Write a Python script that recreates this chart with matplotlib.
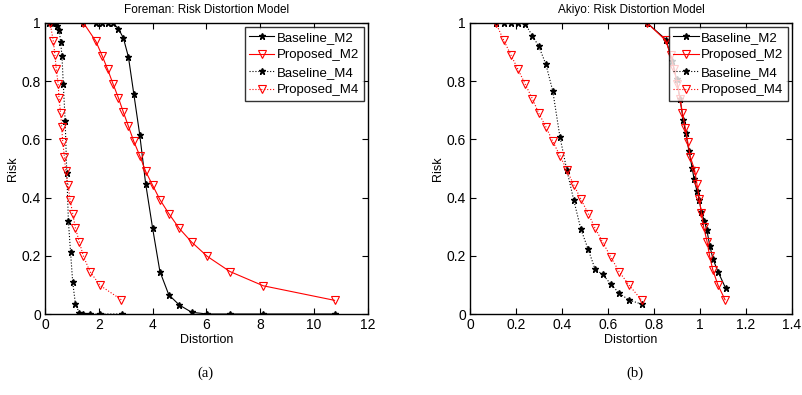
import matplotlib
matplotlib.use("Agg")
from matplotlib import pyplot as plt

plt.rcParams['font.family'] = ['Liberation Sans', 'DejaVu Sans']

# ---- Foreman (a) ----
fore_d_m2 = [1.43, 1.89, 2.12, 2.33, 2.53, 2.73, 2.91, 3.10, 3.30, 3.52,
             3.74, 4.00, 4.27, 4.60, 4.99, 5.45, 6.03, 6.87, 8.11, 10.76]
fore_base_m2 = [1.0, 1.0, 1.0, 1.0, 1.0, 0.979, 0.949, 0.883, 0.756, 0.616,
                0.448, 0.294, 0.146, 0.066, 0.031, 0.006, 0.0, 0.0, 0.0, 0.0]
fore_prop_m2 = [1.0, 0.937, 0.888, 0.84, 0.79, 0.742, 0.694, 0.645, 0.593, 0.544,
                0.49, 0.442, 0.393, 0.345, 0.294, 0.247, 0.198, 0.146, 0.097, 0.047]

fore_d_base_m4 = [0.16, 0.25, 0.31, 0.41, 0.46, 0.53, 0.58, 0.63, 0.68, 0.75,
                  0.81, 0.87, 0.95, 1.03, 1.13, 1.27, 1.43, 1.68, 2.04, 2.85]
fore_base_m4 = [1.0, 1.0, 1.0, 1.0, 0.99, 0.975, 0.935, 0.887, 0.79, 0.662,
                0.484, 0.318, 0.212, 0.109, 0.035, 0.005, 0.0, 0.0, 0.0, 0.0]
fore_d_prop_m4 = [0.19, 0.31, 0.37, 0.42, 0.49, 0.52, 0.58, 0.62, 0.66, 0.72,
                  0.77, 0.86, 0.93, 1.03, 1.13, 1.28, 1.43, 1.67, 2.05, 2.84]
fore_prop_m4 = [1.0, 0.937, 0.889, 0.84, 0.79, 0.742, 0.691, 0.641, 0.591, 0.541,
                0.49, 0.442, 0.393, 0.345, 0.296, 0.246, 0.198, 0.146, 0.098, 0.049]

# ---- Akiyo (b) ----
aki_d_base_m2 = [0.77, 0.852, 0.879, 0.898, 0.913, 0.927, 0.938, 0.952, 0.966, 0.974,
                 0.987, 0.997, 1.006, 1.019, 1.03, 1.043, 1.057, 1.078, 1.112]
aki_base_m2 = [1.0, 0.943, 0.87, 0.806, 0.74, 0.667, 0.622, 0.56, 0.502, 0.465,
               0.422, 0.393, 0.35, 0.32, 0.288, 0.233, 0.188, 0.146, 0.088]
aki_d_prop_m2 = [0.77, 0.851, 0.872, 0.888, 0.901, 0.913, 0.924, 0.936, 0.947, 0.958,
                 0.977, 0.987, 0.997, 1.006, 1.016, 1.031, 1.042, 1.056, 1.078, 1.109]
aki_prop_m2 = [1.0, 0.94, 0.89, 0.84, 0.79, 0.74, 0.69, 0.64, 0.59, 0.54,
               0.493, 0.445, 0.396, 0.347, 0.299, 0.248, 0.199, 0.151, 0.1, 0.049]

aki_d_m4 = [0.112, 0.147, 0.178, 0.209, 0.24, 0.271, 0.299, 0.33, 0.36, 0.391,
            0.421, 0.451, 0.482, 0.514, 0.544, 0.577, 0.612, 0.649, 0.692, 0.746]
aki_base_m4 = [1.0, 1.0, 1.0, 1.0, 0.997, 0.956, 0.92, 0.858, 0.766, 0.609,
               0.495, 0.392, 0.292, 0.222, 0.154, 0.136, 0.103, 0.071, 0.048, 0.034]
aki_prop_m4 = [1.0, 0.94, 0.89, 0.84, 0.79, 0.74, 0.69, 0.643, 0.593, 0.544,
               0.495, 0.444, 0.395, 0.345, 0.295, 0.247, 0.196, 0.145, 0.099, 0.048]

labels = ["Baseline_M2", "Proposed_M2", "Baseline_M4", "Proposed_M4"]


def draw_panel(ax, series, title, xlim, xticks, xticklabels):
    (d1, b2), (d2, p2), (d3, b4), (d4, p4) = series
    ax.plot(d1, b2, '-', color='black', lw=0.8, marker='*', ms=4.5, label=labels[0])
    ax.plot(d2, p2, '-', color='red', lw=0.8, marker='v', ms=5.5,
            mfc='none', mec='red', mew=0.8, label=labels[1])
    ax.plot(d3, b4, ':', color='black', lw=0.8, marker='*', ms=4.5, label=labels[2])
    ax.plot(d4, p4, ':', color='red', lw=0.8, marker='v', ms=5.5,
            mfc='none', mec='red', mew=0.8, label=labels[3])
    ax.set_xlim(*xlim)
    ax.set_ylim(0, 1)
    ax.set_xticks(xticks)
    ax.set_xticklabels(xticklabels)
    ax.set_yticks([0, 0.2, 0.4, 0.6, 0.8, 1])
    ax.set_yticklabels(["0", "0.2", "0.4", "0.6", "0.8", "1"])
    ax.tick_params(direction='in', top=True, right=True, length=4, width=0.8,
                   labelsize=10, pad=3)
    for s in ax.spines.values():
        s.set_linewidth(1.0)
    ax.set_xlabel("Distortion", fontsize=9, labelpad=1)
    ax.set_ylabel("Risk", fontsize=9, labelpad=2)
    ax.set_title(title, fontsize=8.5, pad=7)
    leg = ax.legend(loc='upper right', fontsize=9.5, frameon=True, fancybox=False,
                    borderaxespad=0.3, handlelength=1.9, handletextpad=0.2,
                    labelspacing=0.4, borderpad=0.35)
    leg.get_frame().set_edgecolor('black')
    leg.get_frame().set_linewidth(1.0)


fig = plt.figure(figsize=(8.02, 3.95), dpi=100)
ax1 = fig.add_axes([0.0561, 0.205, 0.4027, 0.737])
ax2 = fig.add_axes([0.586, 0.205, 0.4015, 0.737])

draw_panel(ax1, [(fore_d_m2, fore_base_m2), (fore_d_m2, fore_prop_m2),
                 (fore_d_base_m4, fore_base_m4), (fore_d_prop_m4, fore_prop_m4)],
           "Foreman: Risk Distortion Model", (0, 12), [0, 2, 4, 6, 8, 10, 12],
           ["0", "2", "4", "6", "8", "10", "12"])
draw_panel(ax2, [(aki_d_base_m2, aki_base_m2), (aki_d_prop_m2, aki_prop_m2),
                 (aki_d_m4, aki_base_m4), (aki_d_m4, aki_prop_m4)],
           "Akiyo: Risk Distortion Model", (0, 1.4),
           [0, 0.2, 0.4, 0.6, 0.8, 1.0, 1.2, 1.4],
           ["0", "0.2", "0.4", "0.6", "0.8", "1", "1.2", "1.4"])

fig.text(0.256, 0.045, "(a)", fontsize=10.5, family='Liberation Serif', ha='center')
fig.text(0.792, 0.045, "(b)", fontsize=10.5, family='Liberation Serif', ha='center')

fig.savefig("out.png", dpi=100)
